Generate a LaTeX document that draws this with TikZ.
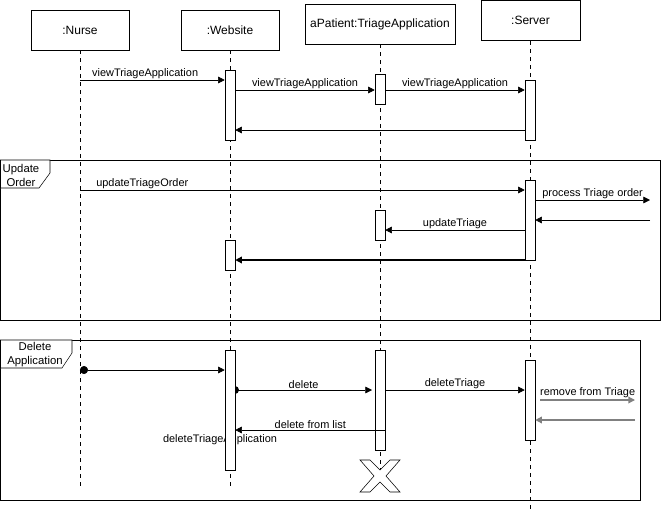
\documentclass[tikz,border=0pt]{standalone}
\usepackage{fontspec}
\setmainfont{Liberation Sans}
\usetikzlibrary{arrows.meta,fit}
\tikzstyle{block} = [rectangle, draw, fill=white, 
    minimum width=73.5pt, minimum height=30pt, inner sep=1pt, font=\fontsize{9}{10}\selectfont]
\tikzstyle{bar} = [rectangle, draw, fill=white, inner sep=0pt]
\tikzstyle{life} = [draw, dash pattern=on 3pt off 3pt]
\tikzstyle{line} = [draw, -{Triangle[length=5pt,width=5pt]}]
\tikzstyle{lbl} = [inner sep=1pt, font=\fontsize{8.2}{9}\selectfont]
\tikzstyle{frame} = [draw, fill=white]
\tikzstyle{tag} = [inner sep=0pt, align=center, font=\fontsize{8.5}{10.5}\selectfont]

\begin{document}
\begin{tikzpicture}[x=0.75pt, y=-0.75pt]
    \useasboundingbox (0,0) rectangle (661,511);
    % Frames
    \path [frame] (0.5,160) rectangle (660,320);
    \path [frame] (0.5,160) -- (50,160) -- (50,173) -- (39,188) -- (0.5,188) -- cycle;
    \node [tag] (upd) at (21,175) {Update\\Order};
    \path [frame] (0.5,340) rectangle (640,500);
    \path [frame] (0.5,340) -- (72,340) -- (72,353) -- (62,368) -- (0.5,368) -- cycle;
    \node [tag] (del) at (35,355) {Delete\\Application};
    % Place nodes
    \node [block] (nurse) at (80,30) {:Nurse};
    \node [block] (website) at (230,30) {:Website};
    \node [block, minimum width=112.5pt] (triage) at (380,24) {aPatient:TriageApplication};
    \node [block, minimum width=74.25pt] (server) at (530.5,20.5) {:Server};
    % Lifelines
    \path [life] (nurse) -- (nurse |- 0,490);
    \path [life] (website) -- (website |- 0,490);
    \path [life] (triage) -- (triage |- 0,472);
    \path [life] (server) -- (server |- 0,511);
    \node [lbl] (dta) at (220,440) {deleteTriageApplication};
    % Activation bars
    \node [bar, fit={(225,70)(235,140)}] (wa1) {};
    \node [bar, fit={(375,74)(385,104)}] (ta1) {};
    \node [bar, fit={(525,80)(535,140)}] (sa1) {};
    \node [bar, fit={(525,180)(535,260)}] (sa2) {};
    \node [bar, fit={(375,210)(385,240)}] (ta2) {};
    \node [bar, fit={(225,240)(235,270)}] (wa2) {};
    \fill (235,390) circle (4);
    \node [bar, fit={(225,350)(235,470)}] (wa3) {};
    \node [bar, fit={(375,350)(385,450)}] (ta3) {};
    \node [bar, fit={(525,360)(535,440)}] (sa3) {};
    % Destruction
    \path [draw, fill=white, line join=miter] (360,460) -- (370,460) -- (380,470) -- (390,460) -- (400,460)
        -- (386,476) -- (400,492) -- (390,492) -- (380,482) -- (370,492) -- (360,492) -- (374,476) -- cycle;
    % Free ends
    \coordinate (po1) at (650,200);
    \coordinate (po2) at (650,220);
    \coordinate (rt1) at (635,400);
    \coordinate (rt2) at (635,420);
    \coordinate (found) at (80,370);
    % Draw edges
    \path [line] (nurse |- 0,80) -- node [lbl, above, pos=0.45] {viewTriageApplication} (wa1.west |- 0,80);
    \path [line] (wa1.east |- 0,90) -- node [lbl, above] {viewTriageApplication} (ta1.west |- 0,90);
    \path [line] (ta1.east |- 0,90) -- node [lbl, above] {viewTriageApplication} (sa1.west |- 0,90);
    \path [line] (sa1.west |- 0,130) -- (wa1.east |- 0,130);
    \path [line] (nurse |- 0,190) -- node [lbl, above, pos=0.14] {updateTriageOrder} (sa2.west |- 0,190);
    \path [line] (sa2.east |- 0,200) -- node [lbl, above] {process Triage order} (po1);
    \path [line] (po2) -- (sa2.east |- 0,220);
    \path [line] (sa2.west |- 0,230) -- node [lbl, above] {updateTriage} (ta2.east |- 0,230);
    \path [line, line width=1pt] (sa2.west |- 0,260) -- (wa2.east |- 0,260);
    \path [draw, {Circle[length=6pt]}-{Triangle[length=5pt,width=5pt]}] (found) -- (wa3.west |- 0,370);
    \path [line] (wa3.east |- 0,390) -- node [lbl, above] {delete} (372,390);
    \path [line] (ta3.east |- 0,390) -- node [lbl, above] {deleteTriage} (sa3.west |- 0,390);
    \path [line, draw=gray, line width=1pt] (sa3.east |- 0,400) ++(5,0) -- node [lbl, above, text=black] {remove from Triage} (rt1);
    \path [line, draw=gray, line width=1pt] (rt2) -- (sa3.east |- 0,420);
    \path [line] (ta3.east |- 0,430) -- node [lbl, above] {delete from list} (wa3.east |- 0,430);
\end{tikzpicture}
\end{document}
